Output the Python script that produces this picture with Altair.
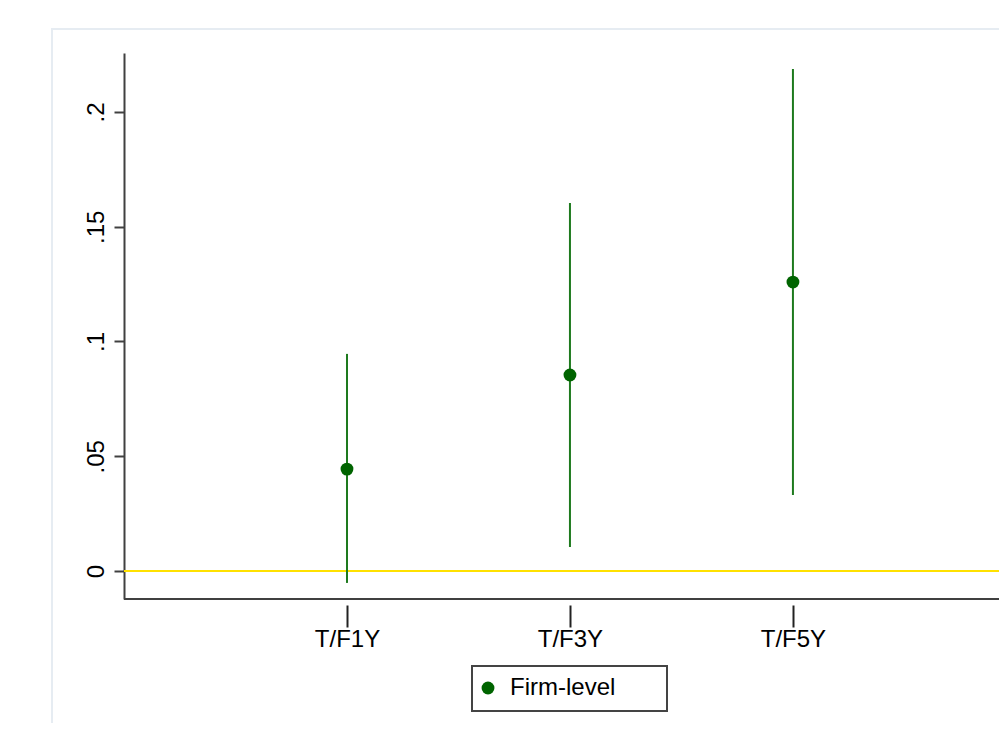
import altair as alt
import pandas as pd

# ---- data ----
labels = ["T/F1Y", "T/F3Y", "T/F5Y"]
positions = [1, 2, 3]
coef = [0.0444, 0.0854, 0.1259]
ci_low = [-0.0052, 0.0105, 0.0331]
ci_high = [0.0946, 0.1603, 0.2187]
series = ["Firm-level", "Firm-level", "Firm-level"]
y_ticks = [0, 0.05, 0.1, 0.15, 0.2]
zero_line = [0]

df = pd.DataFrame({"pos": positions, "label": labels, "coef": coef,
                   "lo": ci_low, "hi": ci_high, "series": series})
zdf = pd.DataFrame({"z": zero_line})

W, H = 883, 546
FONT = "Liberation Sans"
label_js = "[" + ",".join("'%s'" % s for s in labels) + "]"

xscale = alt.Scale(domain=[0, 3.96], nice=False, zero=False)
yscale = alt.Scale(domain=[-0.0122, 0.2257], nice=False, zero=False)

x_axis = alt.Axis(values=positions, labelExpr=label_js + "[datum.value-1]",
                  title=None, domain=False, grid=False, offset=6, tickSize=22,
                  tickWidth=2, tickColor="#222222", labelPadding=0,
                  labelFont=FONT, labelFontSize=24, labelColor="#000000",
                  labelAngle=0)
y_axis = alt.Axis(values=y_ticks,
                  labelExpr="datum.value == 0 ? '0' : slice(format(datum.value, '.2~f'), 1)",
                  title=None, grid=False, domain=True, domainColor="#404040",
                  domainWidth=2, tickColor="#404040", tickWidth=2, tickSize=10,
                  labelFont=FONT, labelFontSize=24, labelColor="#000000",
                  labelAngle=270, labelPadding=6)

base = alt.Chart(df)

frame = alt.Chart(zdf).mark_rect(fill=None, stroke="#e6ecf2", strokeWidth=2, clip=False).encode(
    x=alt.value(-72), x2=alt.value(1200), y=alt.value(-24), y2=alt.value(900))

legend_box = alt.Chart(zdf).mark_rect(fill="#ffffff", stroke="#444444", strokeWidth=2, clip=False).encode(
    x=alt.value(348), x2=alt.value(543), y=alt.value(613), y2=alt.value(658))

zero = alt.Chart(zdf).mark_rule(color="#ffe100", strokeWidth=2).encode(
    y=alt.Y("z:Q", scale=yscale, axis=y_axis))

bottom_line = alt.Chart(zdf).mark_rule(color="#404040", strokeWidth=2).encode(
    x=alt.value(0), x2=alt.value(W), y=alt.value(H))

ci = base.mark_rule(color="#1e7a1e", strokeWidth=2).encode(
    x=alt.X("pos:Q", scale=xscale, axis=x_axis),
    y=alt.Y("lo:Q", scale=yscale, axis=y_axis),
    y2="hi:Q")

pts = base.mark_circle(size=165, opacity=1).encode(
    x=alt.X("pos:Q", scale=xscale, axis=x_axis),
    y=alt.Y("coef:Q", scale=yscale, axis=y_axis),
    color=alt.Color("series:N", scale=alt.Scale(range=["#006400"]),
                    legend=alt.Legend(title=None, orient="none", legendX=342, legendY=613,
                                      direction="vertical",
                                      padding=10, symbolType="circle", symbolSize=165,
                                      symbolOffset=0, labelOffset=10,
                                      labelFont=FONT, labelFontSize=24, labelColor="#000000")))

chart = alt.layer(frame, legend_box, zero, bottom_line, ci, pts).properties(
    width=W, height=H,
    autosize=alt.AutoSizeParams(type="none"),
    padding={"left": 116, "top": 45, "right": -8, "bottom": 124},
    background="#ffffff",
).configure_view(stroke=None)

chart.save("out.html", embed_options={"renderer": "svg", "actions": False})
